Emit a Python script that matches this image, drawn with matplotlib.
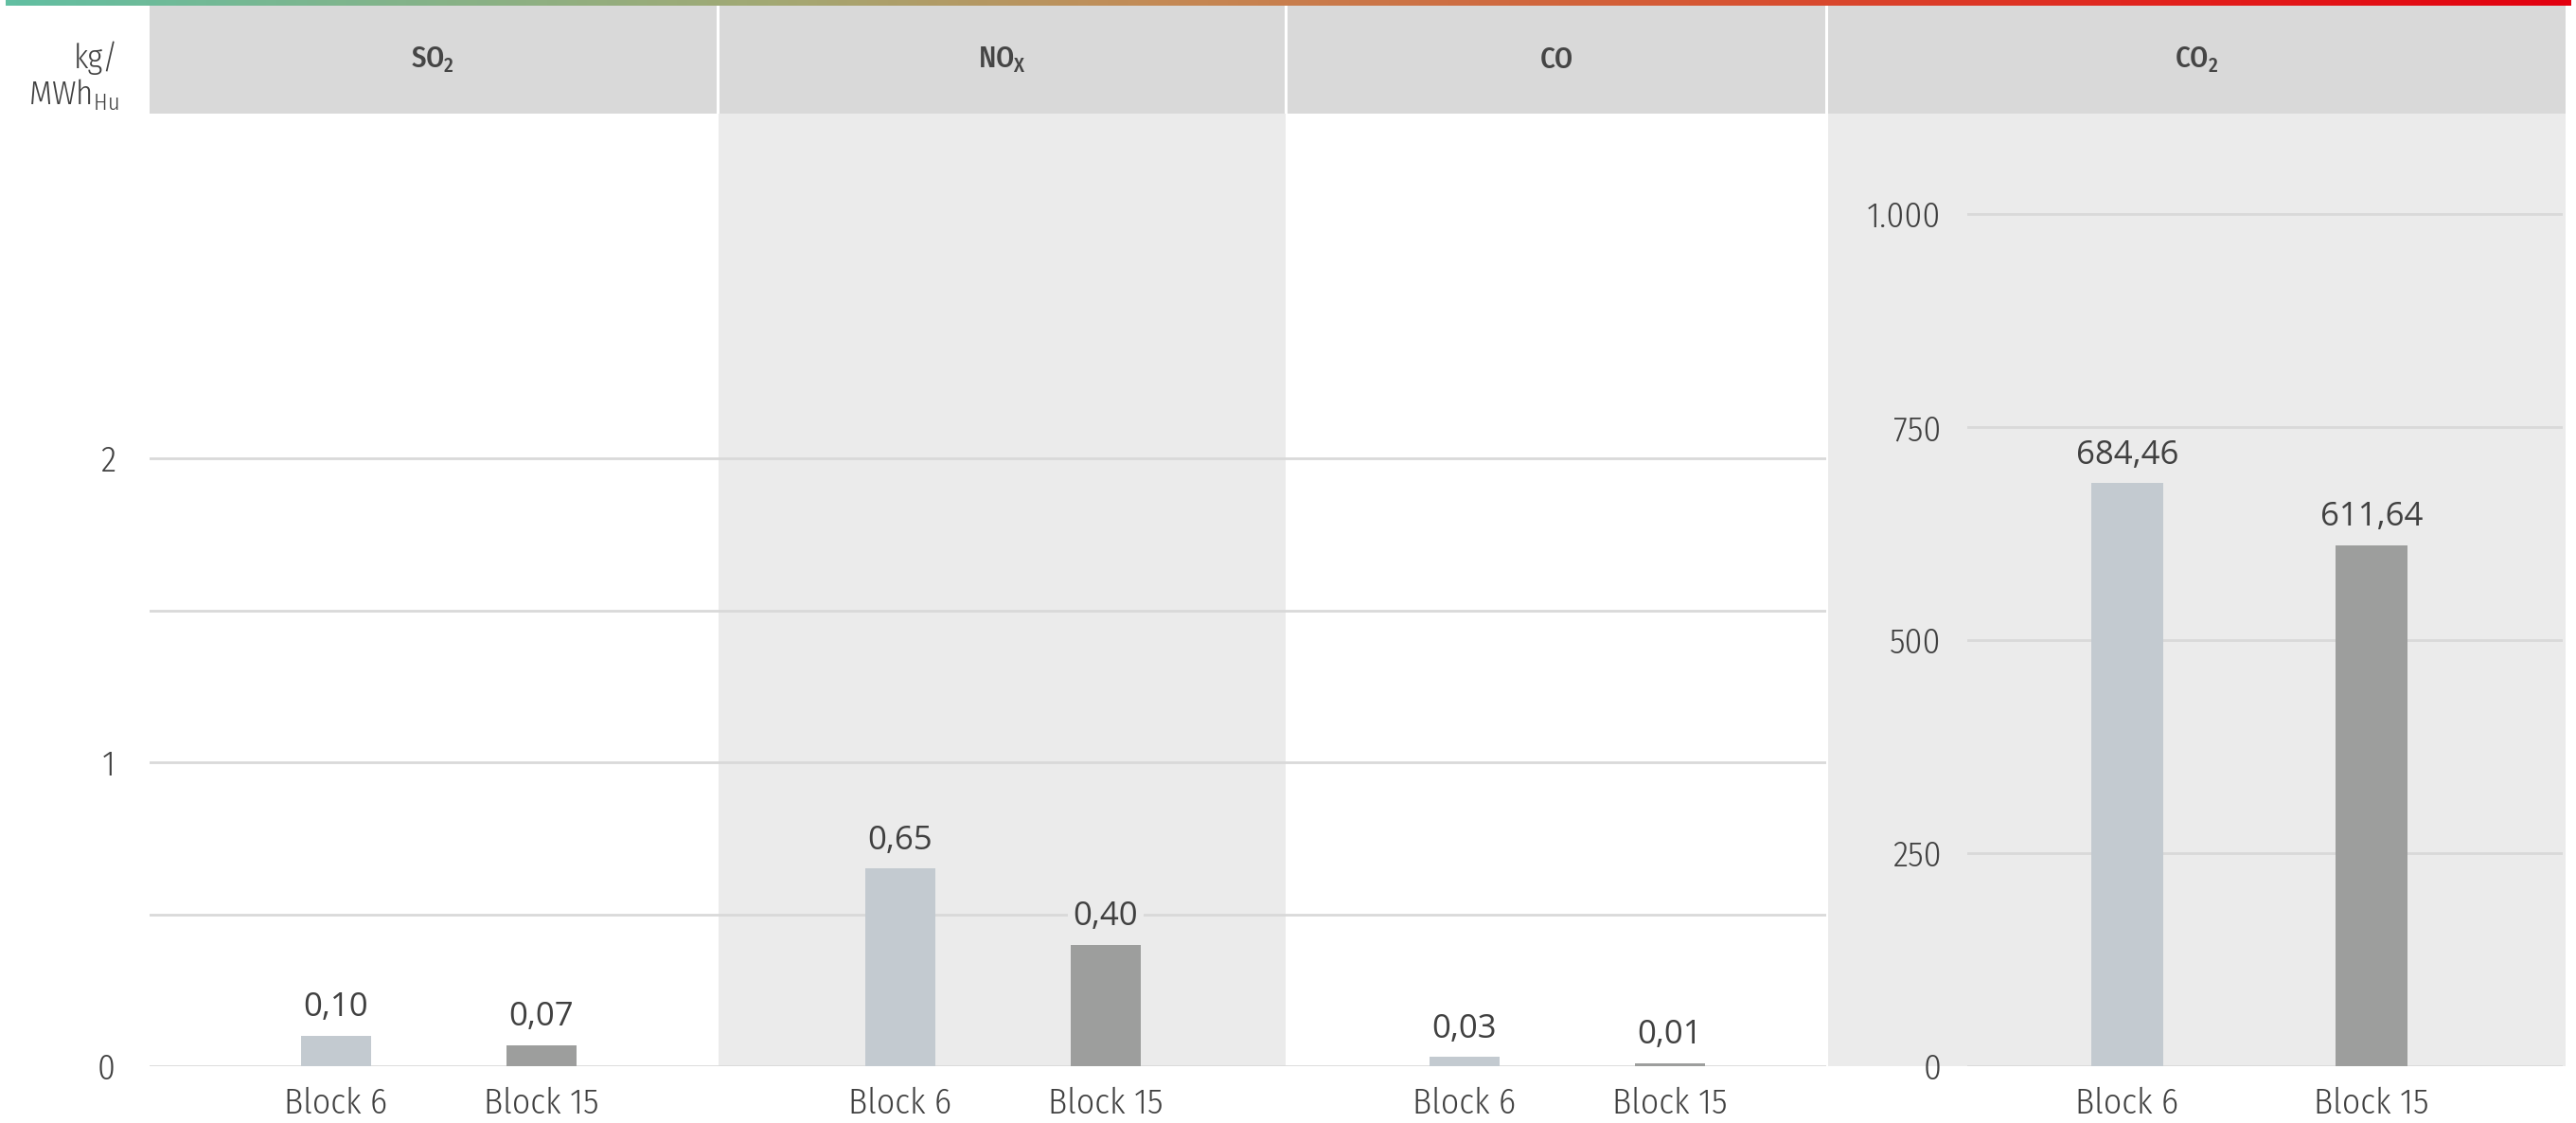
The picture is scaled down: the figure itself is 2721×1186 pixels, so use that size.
import numpy as np
import matplotlib
matplotlib.use('Agg')
import matplotlib.pyplot as plt
from matplotlib.colors import LinearSegmentedColormap
from matplotlib.ticker import FixedLocator, FuncFormatter

# data
blocks = ['Block 6', 'Block 15']
pollutants = ['SO$_\\mathregular{2}$', 'NO$_\\mathregular{X}$', 'CO', 'CO$_\\mathregular{2}$']
so2 = [0.10, 0.07]
nox = [0.65, 0.40]
co = [0.03, 0.01]
co2 = [684.46, 611.64]
left_ticks = [0, 1, 2]
right_ticks = [0, 250, 500, 750, 1000]

W, H = 2721, 1186
fig = plt.figure(figsize=(W / 100, H / 100), dpi=100)

NARROW = ['Fira Sans Condensed', 'DejaVu Sans']
TXT = '#404040'
GRID = '#d9d9d9'
PANEL = '#ebebeb'
HEAD = '#d9d9d9'
BAR_COLORS = ['#c3cad0', '#9d9e9d']


def rect(x0, y0, x1, y1):
    # pixel box -> figure fraction
    return [x0 / W, 1 - y1 / H, (x1 - x0) / W, (y1 - y0) / H]


def fmt_de(v, dec=2):
    s = f'{v:,.{dec}f}'
    return s.replace(',', 'X').replace('.', ',').replace('X', '.')


# gradient strip on top
gax = fig.add_axes(rect(6, 0, 2716, 6))
cmap = LinearSegmentedColormap.from_list('strip', [
    (0.0, '#62bfa2'), (0.3, '#a3a873'), (0.45, '#c48a55'),
    (0.65, '#d55a35'), (0.85, '#e2201c'), (1.0, '#e3000f')])
gax.imshow(np.linspace(0, 1, 512)[None, :], aspect='auto', cmap=cmap)
gax.axis('off')

# header boxes
headers = [(158, 757), (760, 1357), (1360, 1928), (1931, 2710)]
for (x0, x1), name in zip(headers, pollutants):
    hax = fig.add_axes(rect(x0, 6, x1, 120))
    hax.set_facecolor(HEAD)
    hax.set_xticks([])
    hax.set_yticks([])
    for s in hax.spines.values():
        s.set_visible(False)
    hax.text(0.5, 0.5, name, ha='center', va='center', fontsize=22,
             fontweight=500, color='#454545', family=NARROW,
             transform=hax.transAxes)

# unit label
fig.text(125 / W, 1 - 61 / H, 'kg/', ha='right', va='center',
         fontsize=25, fontweight=300, color=TXT, family=NARROW)
fig.text(125 / W, 1 - 99 / H, 'MWh$_\\mathregular{Hu}$', ha='right', va='center',
         fontsize=25, fontweight=300, color=TXT, family=NARROW)

base_px = 1126
top_px = 120
left_scale = 321.0   # px per kg/MWh
right_scale = 224.9 / 250.0


def style_axis(ax, ymax, ticks, minor, face, show_y, ypad):
    ax.set_ylim(0, ymax)
    ax.set_facecolor(face)
    for s in ax.spines.values():
        s.set_visible(False)
    ax.yaxis.set_major_locator(FixedLocator(ticks))
    if minor:
        ax.yaxis.set_minor_locator(FixedLocator(minor))
    ax.grid(axis='y', which='both', color=GRID, lw=2, zorder=0)
    ax.set_axisbelow(True)
    ax.tick_params(axis='both', which='both', length=0, labelsize=27,
                   labelcolor=TXT)
    ax.tick_params(axis='x', pad=16)
    ax.tick_params(axis='y', pad=ypad)
    if not show_y:
        ax.tick_params(axis='y', labelleft=False)


def finish_labels(ax):
    for lab in ax.get_xticklabels() + ax.get_yticklabels():
        lab.set_family(NARROW)
        lab.set_fontweight(300)


def draw_bars(ax, vals, width, face, dec=2):
    x = np.arange(len(vals))
    bars = ax.bar(x, vals, width=width, color=BAR_COLORS, zorder=2)
    ax.set_xticks(x)
    ax.set_xticklabels(blocks)
    for b, v in zip(bars, vals):
        ax.annotate(fmt_de(v, dec), (b.get_x() + b.get_width() / 2, v),
                    xytext=(0, 9), textcoords='offset points',
                    ha='center', va='bottom', fontsize=25, color=TXT,
                    family=['Open Sans', 'DejaVu Sans'], zorder=3,
                    bbox=dict(boxstyle='square,pad=0.15', fc=face, ec='none'))


# three left panels share the kg/MWh scale
left_ymax = (base_px - top_px) / left_scale
panels = [(158, 759, 355, so2, 'white'),
          (759, 1358, 951, nox, PANEL),
          (1358, 1929, 1547, co, 'white')]
spacing = 217.0
for i, (x0, x1, c0, vals, face) in enumerate(panels):
    ax = fig.add_axes(rect(x0, top_px, x1, base_px))
    draw_bars(ax, vals, 74 / spacing, face)
    ax.set_xlim((x0 - c0) / spacing, (x1 - c0) / spacing)
    style_axis(ax, left_ymax, left_ticks, [0.5, 1.5], face, i == 0, 26)
    ax.yaxis.set_major_formatter(FuncFormatter(lambda v, p: f'{v:.0f}'))
    finish_labels(ax)

# CO2 panel with its own scale
bg = fig.add_axes(rect(1931, top_px, 2710, base_px))
bg.set_facecolor(PANEL)
bg.set_xticks([])
bg.set_yticks([])
for s in bg.spines.values():
    s.set_visible(False)

ax4 = fig.add_axes(rect(2078, top_px, 2707, base_px))
sp4 = 258.0
draw_bars(ax4, co2, 76 / sp4, PANEL)
ax4.set_xlim((2078 - 2247) / sp4, (2707 - 2247) / sp4)
style_axis(ax4, (base_px - top_px) / right_scale, right_ticks, None, 'none', True, 20)
ax4.yaxis.set_major_formatter(FuncFormatter(lambda v, p: fmt_de(v, 0)))
ax4.patch.set_alpha(0)
finish_labels(ax4)

fig.savefig('out.png', dpi=100)
